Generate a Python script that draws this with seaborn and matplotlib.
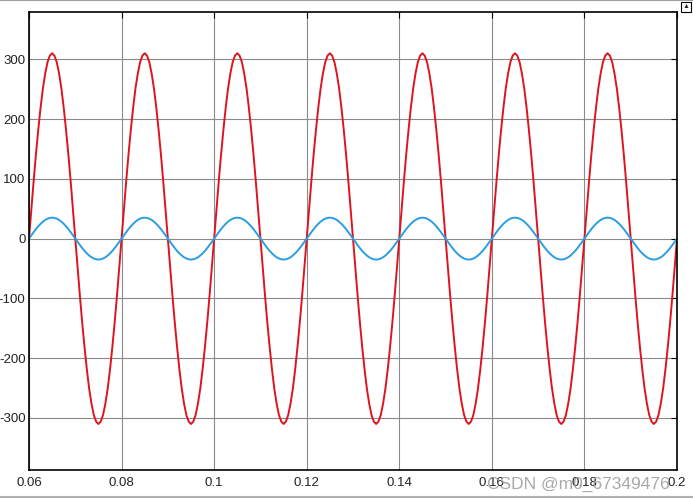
import numpy as np
import pandas as pd
import seaborn as sns
import matplotlib.pyplot as plt
from matplotlib.lines import Line2D

# readings over one 20 ms period (every 0.5 ms), signal repeats every period
t_begin = 0.06
t_end = 0.2
period = 0.02

red_half = [0, 48, 96, 141, 182, 219, 251, 276, 295, 306, 310,
            306, 295, 276, 251, 219, 182, 141, 96, 48]
blue_half = [0, 5.5, 10.8, 15.9, 20.6, 24.7, 28.3, 31.2, 33.3, 34.6, 35,
             34.6, 33.3, 31.2, 28.3, 24.7, 20.6, 15.9, 10.8, 5.5]

red_period = red_half + [-v for v in red_half]
blue_period = blue_half + [-v for v in blue_half]

x_ticks = [0.06, 0.08, 0.1, 0.12, 0.14, 0.16, 0.18, 0.2]
x_labels = ['0.06', '0.08', '0.1', '0.12', '0.14', '0.16', '0.18', '0.2']
y_ticks = [-300, -200, -100, 0, 100, 200, 300]

n_per = len(red_period)
n_periods = int(round((t_end - t_begin) / period))
t = np.linspace(t_begin, t_end, n_per * n_periods + 1)
red = red_period * n_periods + [red_period[0]]
blue = blue_period * n_periods + [blue_period[0]]

df = pd.DataFrame({'t': np.concatenate([t, t]),
                   'v': red + blue,
                   'sig': ['red'] * len(t) + ['blue'] * len(t)})

sns.set_style('white')
plt.rcParams['font.family'] = ['Liberation Sans', 'DejaVu Sans']
plt.rcParams['axes.unicode_minus'] = False

fig = plt.figure(figsize=(6.93, 4.99), dpi=100)
ax = fig.add_axes([29 / 693, 1 - 470 / 499, 648 / 693, 458 / 499])
sns.lineplot(data=df, x='t', y='v', hue='sig',
             palette={'red': '#e0141c', 'blue': '#2b9de2'},
             hue_order=['red', 'blue'], linewidth=1.4, legend=False, ax=ax)

ax.set_xlim(t_begin, t_end)
ax.set_ylim(-387, 379)
ax.set_xticks(x_ticks)
ax.set_xticklabels(x_labels)
ax.set_yticks(y_ticks)
ax.set_xlabel('')
ax.set_ylabel('')
ax.grid(True, color='#8a8a8a', linewidth=0.8)
ax.tick_params(axis='both', direction='in', length=4, width=0.8, color='black',
               labelsize=9.5, labelcolor='#222222', top=True, right=True)
ax.tick_params(axis='x', pad=5)
ax.tick_params(axis='y', pad=2.5)
for s in ax.spines.values():
    s.set_color('black')
    s.set_linewidth(1.2)

# thin frame lines of the screenshot
fig.add_artist(Line2D([0, 1], [0.999, 0.999], color='#a0a0a0', linewidth=1.5))
fig.add_artist(Line2D([0, 1], [1 - 497 / 499, 1 - 497 / 499], color='#b0b0b0', linewidth=1.5))

# small icon top right
fig.text(686 / 693, 1 - 7 / 499, '\u25b2', fontsize=5, ha='center', va='center',
         bbox=dict(boxstyle='square,pad=0.25', fc='white', ec='black', lw=0.8))

fig.text(578 / 693, 1 - 484 / 499, 'CSDN @m0_67349476', fontsize=12.5,
         color='#9a9a9a', alpha=0.85, ha='center', va='center')

fig.savefig('out.png', dpi=100)
